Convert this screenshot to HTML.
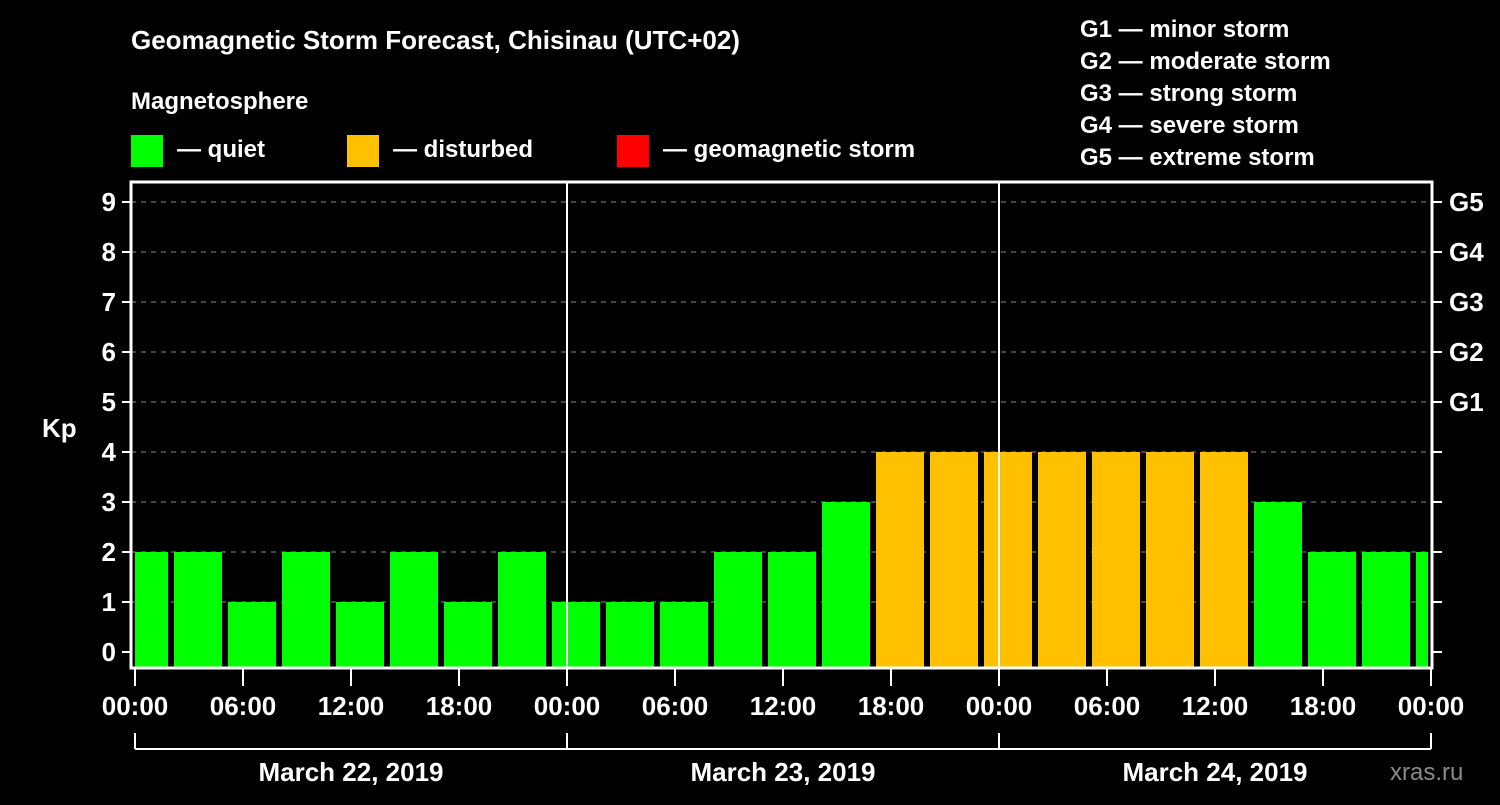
<!DOCTYPE html>
<html><head><meta charset="utf-8"><style>
body{margin:0;background:#000;width:1500px;height:800px;overflow:hidden}
svg text{font-family:"Liberation Sans",sans-serif;font-weight:bold;fill:#fff}
</style></head><body>
<svg id="c" width="1500" height="800">
<text x="131" y="49" font-size="26">Geomagnetic Storm Forecast, Chisinau (UTC+02)</text>
<text x="131" y="109" font-size="24">Magnetosphere</text>
<rect x="131" y="135" width="32" height="32" fill="#00ff00"/>
<text x="177" y="157" font-size="24">— quiet</text>
<rect x="347" y="135" width="32" height="32" fill="#ffc000"/>
<text x="393" y="157" font-size="24">— disturbed</text>
<rect x="617" y="135" width="32" height="32" fill="#ff0000"/>
<text x="663" y="157" font-size="24">— geomagnetic storm</text>
<g font-size="24">
<text x="1080" y="37">G1 — minor storm</text>
<text x="1080" y="69">G2 — moderate storm</text>
<text x="1080" y="101">G3 — strong storm</text>
<text x="1080" y="133">G4 — severe storm</text>
<text x="1080" y="165">G5 — extreme storm</text>
</g>
<text x="42" y="437" font-size="26">Kp</text>
<text x="1390" y="780" font-size="24" fill="#888" style="fill:#8a8a8a;font-weight:normal">xras.ru</text>
<g id="plot"></g>
</svg>
<script>
const kpValues=[2,2,1,2,1,2,1,2, 1,1,1,2,2,3,4,4, 4,4,4,4,4,3,2,2, 2];
const yTicks=[0,1,2,3,4,5,6,7,8,9];
const gLabels=["G1","G2","G3","G4","G5"];
const hourLabels=["00:00","06:00","12:00","18:00","00:00","06:00","12:00","18:00","00:00","06:00","12:00","18:00","00:00"];
const dayLabels=["March 22, 2019","March 23, 2019","March 24, 2019"];
const X0=135,PXH=18,L=131,R=1432,T=182,B=668;
const x=h=>X0+h*PXH, y=v=>652-v*50;
const NS="http://www.w3.org/2000/svg",g=document.getElementById('plot');
function mk(t,a,p){const e=document.createElementNS(NS,t);for(const k in a)e.setAttribute(k,a[k]);(p||g).appendChild(e);return e;}
yTicks.forEach(v=>{
 if(v>0){const l=mk('line',{x1:L,x2:R,y1:y(v),y2:y(v),stroke:'#888','stroke-dasharray':'5,5','stroke-width':1});
 
 }
 mk('line',{x1:L-9,x2:L,y1:y(v),y2:y(v),stroke:'#fff','stroke-width':2});
 mk('line',{x1:R,x2:R+10,y1:y(v),y2:y(v),stroke:'#fff','stroke-width':2});
 const t=mk('text',{x:L-15,y:y(v)+9,'font-size':26,'text-anchor':'end'});t.textContent=v;
 
 
});
gLabels.forEach((s,i)=>{const t=mk('text',{x:1449,y:y(5+i)+9,'font-size':26});t.textContent=s;
 
 });
const cp=mk('clipPath',{id:'cl'});mk('rect',{x:X0,y:T,width:1428-X0,height:B-T},cp);
kpValues.forEach((v,i)=>{const c=x(3*i+0.5);
 const r=mk('rect',{x:c-24,y:y(v),width:48,height:B-y(v),fill:v>=5?'#ff0000':v>=4?'#ffc000':'#00ff00','clip-path':'url(#cl)'});
 
 });
[1,2].forEach(d=>mk('line',{x1:x(24*d),x2:x(24*d),y1:T,y2:B,stroke:'#fff','stroke-width':2}));
const f=mk('rect',{x:L,y:T,width:R-L,height:B-T,fill:'none',stroke:'#fff','stroke-width':3});


hourLabels.forEach((s,i)=>{const xx=x(6*i);
 mk('line',{x1:xx,x2:xx,y1:B,y2:B+18,stroke:'#fff','stroke-width':2});
 const t=mk('text',{x:xx,y:715,'font-size':26,'text-anchor':'middle'});t.textContent=s;
 
 });
mk('line',{x1:x(0),x2:x(72),y1:749,y2:749,stroke:'#fff','stroke-width':2});
[0,1,2,3].forEach(d=>mk('line',{x1:x(24*d),x2:x(24*d),y1:733,y2:749,stroke:'#fff','stroke-width':2}));
dayLabels.forEach((s,i)=>{const t=mk('text',{x:x(24*i+12),y:781,'font-size':26,'text-anchor':'middle'});t.textContent=s;
 
 });
</script>
</body></html>
